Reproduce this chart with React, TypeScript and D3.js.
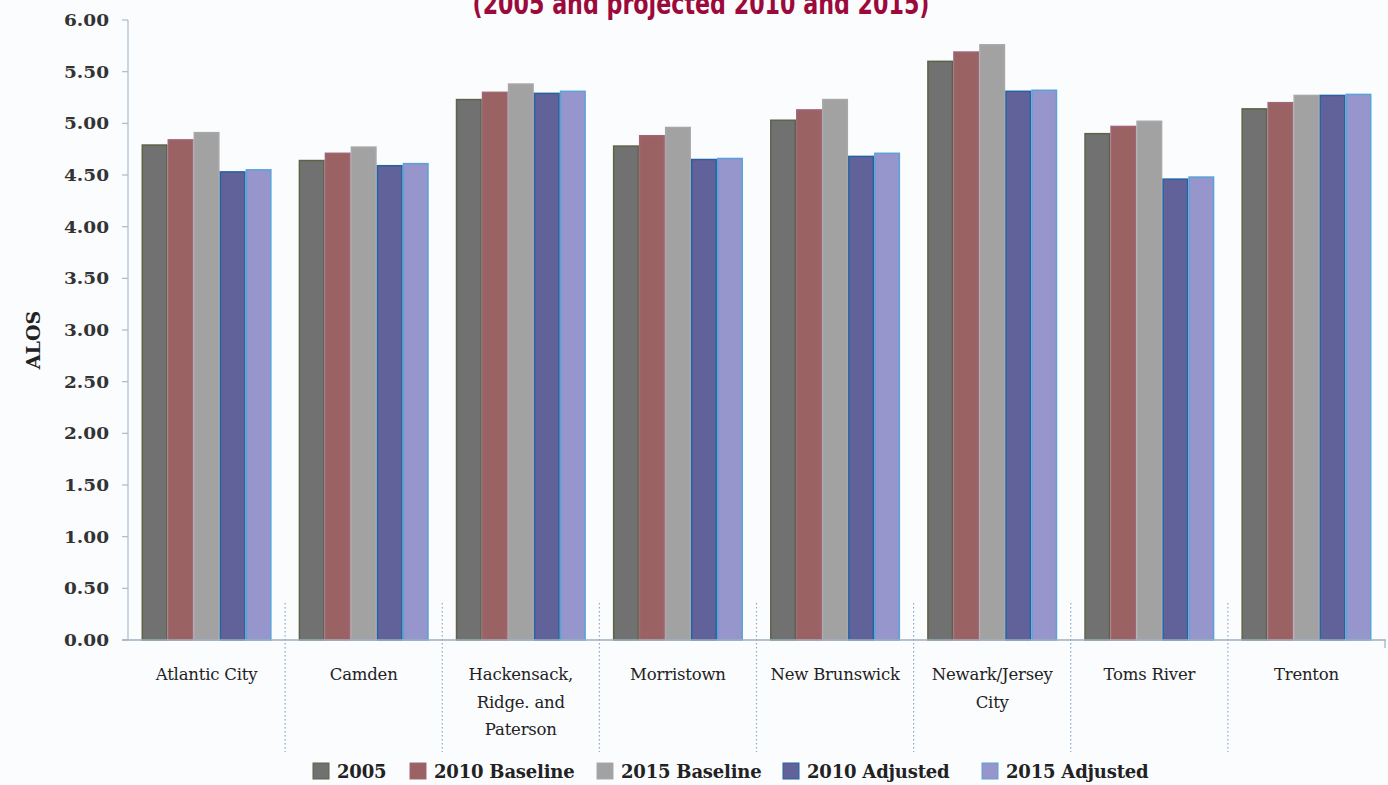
import React from "react";
import * as d3 from "d3";

const categories = [
  "Atlantic City",
  "Camden",
  "Hackensack,\nRidge. and\nPaterson",
  "Morristown",
  "New Brunswick",
  "Newark/Jersey\nCity",
  "Toms River",
  "Trenton",
];
const seriesNames = ["2005", "2010 Baseline", "2015 Baseline", "2010 Adjusted", "2015 Adjusted"];
const v2005 = [4.79, 4.64, 5.23, 4.78, 5.03, 5.6, 4.9, 5.14];
const v2010Base = [4.84, 4.71, 5.3, 4.88, 5.13, 5.69, 4.97, 5.2];
const v2015Base = [4.91, 4.77, 5.38, 4.96, 5.23, 5.76, 5.02, 5.27];
const v2010Adj = [4.53, 4.59, 5.29, 4.65, 4.68, 5.31, 4.46, 5.27];
const v2015Adj = [4.55, 4.61, 5.31, 4.66, 4.71, 5.32, 4.48, 5.28];
const yTicks = [0, 0.5, 1, 1.5, 2, 2.5, 3, 3.5, 4, 4.5, 5, 5.5, 6];
const title = "(2005 and projected 2010 and 2015)";
const yLabel = "ALOS";

const fills = ["#717171", "#9a6262", "#a2a2a2", "#62629a", "#9696cc"];
const strokes = ["#5c6446", "#a0667a", "#a8a8a8", "#2462a0", "#5aa2d8"];

export default function App() {
  const W = 1388, H = 785;
  const values = [v2005, v2010Base, v2015Base, v2010Adj, v2015Adj];
  const x0 = d3.scaleBand<string>().domain(categories).range([128, 1385]).paddingInner(0).paddingOuter(0);
  const x1 = d3.scaleBand<string>().domain(seriesNames).range([0, x0.bandwidth()]).paddingInner(0).paddingOuter(0.52);
  const y = d3.scaleLinear().domain([0, 6]).range([640, 20]);
  const serif = "'DejaVu Serif', 'Liberation Serif', serif";

  const legendX = [313, 410, 597, 783, 982];

  return (
    <svg width={W} height={H} style={{ position: "absolute", left: 0, top: 0, background: "#fbfcfe" }}>
      <rect x={0} y={0} width={W} height={H} fill="#fbfcfe" />
      <text x={701} y={14} textAnchor="middle" fontFamily="'Liberation Sans Narrow', 'DejaVu Sans Condensed', sans-serif"
        fontWeight="bold" fontSize={30} fill="#9b0a3b" textLength={457} lengthAdjust="spacingAndGlyphs">{title}</text>

      {/* y axis */}
      <line x1={128} x2={128} y1={y(6)} y2={y(0)} stroke="#a9bccb" strokeWidth={1.2} />
      {yTicks.map((t) => (
        <g key={t}>
          <line x1={122} x2={128} y1={y(t)} y2={y(t)} stroke="#a9bccb" strokeWidth={1.2} />
          <text x={109} y={y(t)} dy="0.36em" textAnchor="end" fontFamily={serif} fontWeight="bold" fontSize={16.5} fill="#333" textLength={45} lengthAdjust="spacingAndGlyphs">
            {t.toFixed(2)}
          </text>
        </g>
      ))}
      <text transform={`translate(40,${y(3) + 10}) rotate(-90)`} textAnchor="middle" fontFamily={serif} fontWeight="bold" fontSize={19} fill="#222">
        {yLabel}
      </text>

      {/* bars */}
      {categories.map((c, ci) => (
        <g key={c} transform={`translate(${x0(c)},0)`}>
          {seriesNames.map((s, si) => (
            <rect key={s} x={(x1(s) as number) + 0.75} y={y(values[si][ci])} width={x1.bandwidth() - 1.5}
              height={y(0) - y(values[si][ci])} fill={fills[si]} stroke={strokes[si]} strokeWidth={1.5} />
          ))}
        </g>
      ))}

      {/* x baseline */}
      <line x1={122} x2={1386} y1={y(0)} y2={y(0)} stroke="#9fb0bf" strokeWidth={1.5} />
      {categories.slice(1).map((c) => (
        <line key={c} x1={x0(c)} x2={x0(c)} y1={603} y2={752} stroke="#8aaac6" strokeWidth={1.2} strokeDasharray="1.5,2.5" />
      ))}
      <line x1={1385} x2={1385} y1={640} y2={648} stroke="#9fb0bf" strokeWidth={1.2} />

      {/* category labels */}
      {categories.map((c) => (
        <text key={c} x={(x0(c) as number) + x0.bandwidth() / 2} y={680} textAnchor="middle" fontFamily={serif} fontSize={16.5} fill="#222" letterSpacing={-0.2}>
          {c.split("\n").map((line, li) => (
            <tspan key={li} x={(x0(c) as number) + x0.bandwidth() / 2} dy={li === 0 ? 0 : 27.5}>{line}</tspan>
          ))}
        </text>
      ))}

      {/* legend */}
      {seriesNames.map((s, si) => (
        <g key={s}>
          <rect x={legendX[si]} y={763} width={16} height={16} fill={fills[si]} stroke={strokes[si]} strokeWidth={1} />
          <text x={legendX[si] + 24} y={778} fontFamily={serif} fontWeight="bold" fontSize={18} fill="#222" letterSpacing={-0.2}>{s}</text>
        </g>
      ))}
    </svg>
  );
}
